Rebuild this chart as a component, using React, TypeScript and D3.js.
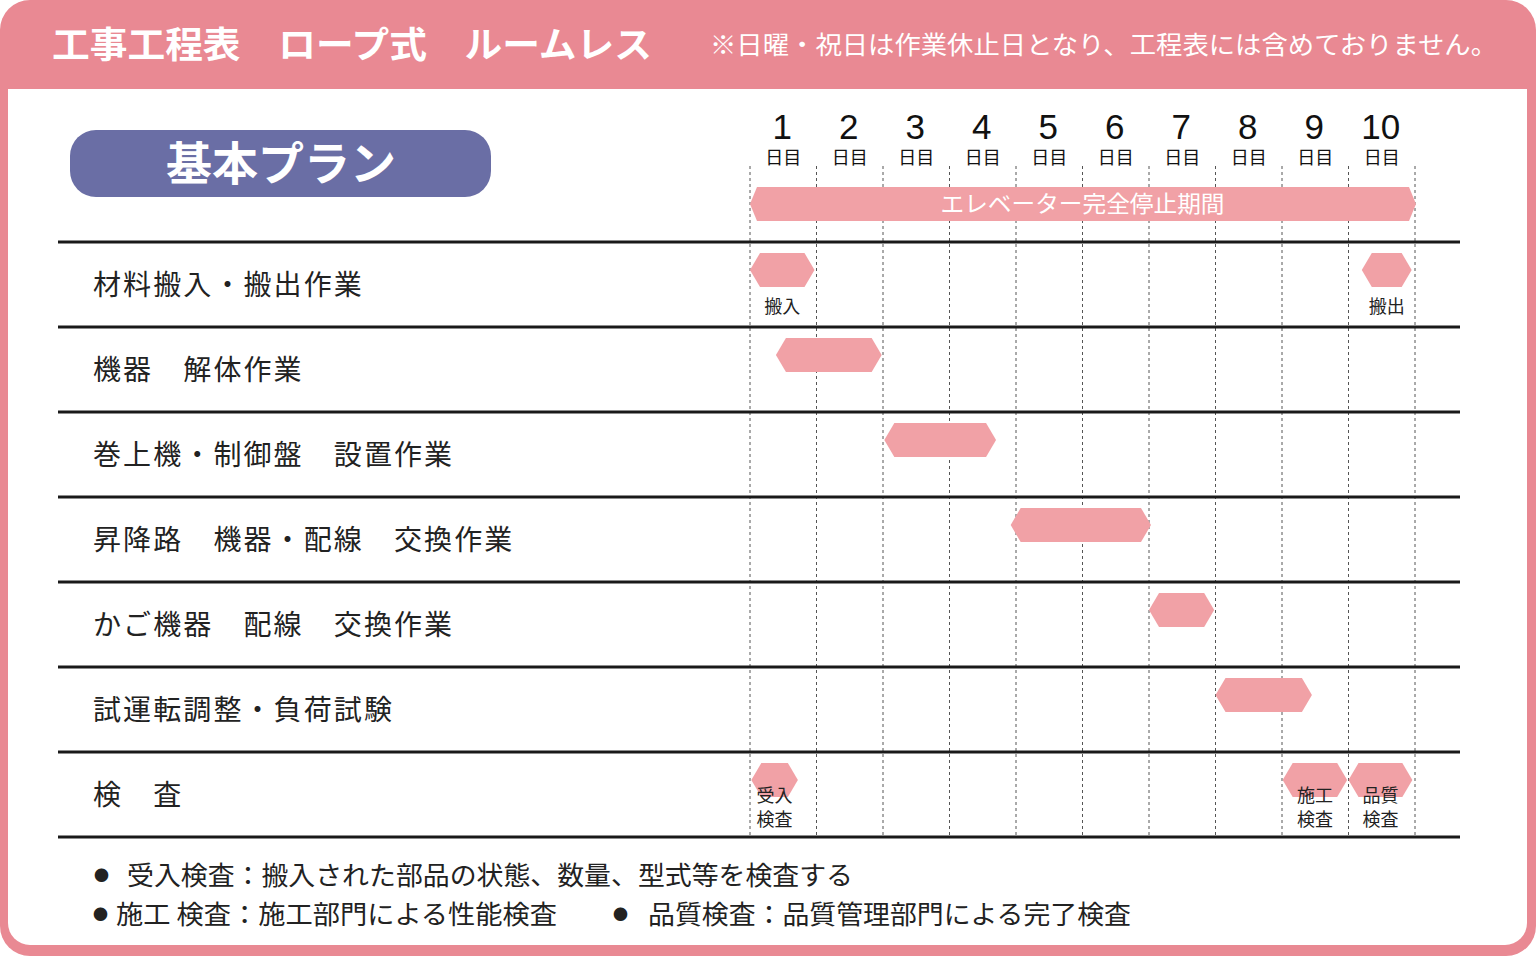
import React from 'react';
import * as d3 from 'd3';

const title = '工事工程表　ロープ式　ルームレス';
const note = '※日曜・祝日は作業休止日となり、工程表には含めておりません。';
const plan = '基本プラン';
const days = [1, 2, 3, 4, 5, 6, 7, 8, 9, 10];
const dayUnit = '日目';
const stopLabel = 'エレベーター完全停止期間';

const tasks = [
  '材料搬入・搬出作業',
  '機器　解体作業',
  '巻上機・制御盤　設置作業',
  '昇降路　機器・配線　交換作業',
  'かご機器　配線　交換作業',
  '試運転調整・負荷試験',
  '検　査',
];

// start / end in days (0 = start of day 1)
const bars = [
  { row: 0, start: 0, end: 0.97, label: ['搬入'] },
  { row: 0, start: 9.2, end: 9.95, label: ['搬出'] },
  { row: 1, start: 0.39, end: 1.98, label: [] },
  { row: 2, start: 2.02, end: 3.7, label: [] },
  { row: 3, start: 3.92, end: 6.03, label: [] },
  { row: 4, start: 6.0, end: 6.98, label: [] },
  { row: 5, start: 7.0, end: 8.45, label: [] },
  { row: 6, start: 0.02, end: 0.72, label: ['受入', '検査'] },
  { row: 6, start: 8.01, end: 8.98, label: ['施工', '検査'] },
  { row: 6, start: 9.0, end: 9.96, label: ['品質', '検査'] },
];

const notes1 = ['●', '受入検査：搬入された部品の状態、数量、型式等を検査する'];
const notes2 = ['●', '施工 検査：施工部門による性能検査', '●', '品質検査：品質管理部門による完了検査'];

const PINK = '#E98993';
const BAR = '#F1A1A6';
const NAVY = '#6A6EA5';
const JP = '"Noto Sans CJK JP", "Noto Sans", sans-serif';

function hexPath(x0: number, x1: number, yc: number, h: number, ind: number) {
  const p = d3.path();
  p.moveTo(x0, yc);
  p.lineTo(x0 + ind, yc - h / 2);
  p.lineTo(x1 - ind, yc - h / 2);
  p.lineTo(x1, yc);
  p.lineTo(x1 - ind, yc + h / 2);
  p.lineTo(x0 + ind, yc + h / 2);
  p.closePath();
  return p.toString();
}

export default function App() {
  const W = 1536;
  const H = 956;
  const x = d3.scaleLinear().domain([0, 10]).range([750, 1415]);
  const y = d3.scaleBand<number>().domain(d3.range(tasks.length)).range([242, 837]);
  const rowH = y.bandwidth();

  const inner = d3.path();
  const r = 22;
  inner.moveTo(8, 89);
  inner.lineTo(1527, 89);
  inner.lineTo(1527, 945 - r);
  inner.arcTo(1527, 945, 1527 - r, 945, r);
  inner.lineTo(8 + r, 945);
  inner.arcTo(8, 945, 8, 945 - r, r);
  inner.closePath();

  return (
    <svg width={W} height={H} style={{ position: 'absolute', left: 0, top: 0 }} fontFamily={JP}>
      <rect x={0} y={0} width={W} height={H} rx={30} fill={PINK} />
      <path d={inner.toString()} fill="#fff" />
      <text x={52} y={42} fill="#fff" fontSize={36} fontWeight={700} dominantBaseline="central" textLength={600} lengthAdjust="spacingAndGlyphs">
        {title}
      </text>
      <text x={710} y={43} fill="#fff" fontSize={25} dominantBaseline="central" textLength={787} lengthAdjust="spacingAndGlyphs">
        {note}
      </text>

      <rect x={70} y={130} width={421} height={67} rx={26} fill={NAVY} />
      <text x={281} y={160} fill="#fff" fontSize={46} fontWeight={700} textAnchor="middle" dominantBaseline="central">
        {plan}
      </text>

      {d3.range(0, 11).map((i) => (
        <line key={'v' + i} x1={x(i)} x2={x(i)} y1={166} y2={836} stroke="#555" strokeWidth={1} strokeDasharray="3,3" />
      ))}
      {days.map((d) => (
        <g key={'d' + d}>
          <text x={x(d - 0.5) - 1} y={126} fontSize={35} fill="#111" textAnchor="middle" dominantBaseline="central" fontFamily='"Liberation Sans", Arial, sans-serif'>
            {d}
          </text>
          <text x={x(d - 0.5)} y={156} fontSize={18} fill="#111" textAnchor="middle" dominantBaseline="central">
            {dayUnit}
          </text>
        </g>
      ))}

      <path d={hexPath(x(0), x(10) + 1, 204, 34, 7)} fill={BAR} />
      <text x={(x(0) + x(10)) / 2} y={202} fill="#fff" fontSize={23} textAnchor="middle" dominantBaseline="central" textLength={284} lengthAdjust="spacingAndGlyphs">
        {stopLabel}
      </text>

      {tasks.map((t, i) => (
        <text key={t} x={93} y={(y(i) as number) + rowH / 2 - 2} fontSize={28} fill="#222" dominantBaseline="central" letterSpacing={2.1}>
          {t}
        </text>
      ))}

      {bars.map((b, i) => {
        const top = y(b.row) as number;
        const cx = (x(b.start) + x(b.end)) / 2;
        const two = b.label.length > 1;
        return (
          <g key={'b' + i}>
            <path d={hexPath(x(b.start), x(b.end), top + 28, 34, 10)} fill={BAR} />
            {b.label.map((l, j) => (
              <text key={l + j} x={cx} y={top + (two ? 42 + j * 24 : 63)} fontSize={18} fill="#222" textAnchor="middle" dominantBaseline="central">
                {l}
              </text>
            ))}
          </g>
        );
      })}

      {d3.range(0, tasks.length + 1).map((i) => {
        const yy = i < tasks.length ? (y(i) as number) : 837;
        return <line key={'h' + i} x1={58} x2={1460} y1={yy} y2={yy} stroke="#1a1a1a" strokeWidth={3} />;
      })}

      <text x={94} y={874} fontSize={15} fill="#222" dominantBaseline="central">{notes1[0]}</text>
      <text x={127} y={873} fontSize={26} fill="#222" dominantBaseline="central" textLength={726} lengthAdjust="spacingAndGlyphs">
        {notes1[1]}
      </text>
      <text x={93} y={913} fontSize={15} fill="#222" dominantBaseline="central">{notes2[0]}</text>
      <text x={116} y={912} fontSize={26} fill="#222" dominantBaseline="central" textLength={441} lengthAdjust="spacingAndGlyphs">
        {notes2[1]}
      </text>
      <text x={613} y={913} fontSize={15} fill="#222" dominantBaseline="central">{notes2[2]}</text>
      <text x={648} y={912} fontSize={26} fill="#222" dominantBaseline="central" textLength={483} lengthAdjust="spacingAndGlyphs">
        {notes2[3]}
      </text>
    </svg>
  );
}
